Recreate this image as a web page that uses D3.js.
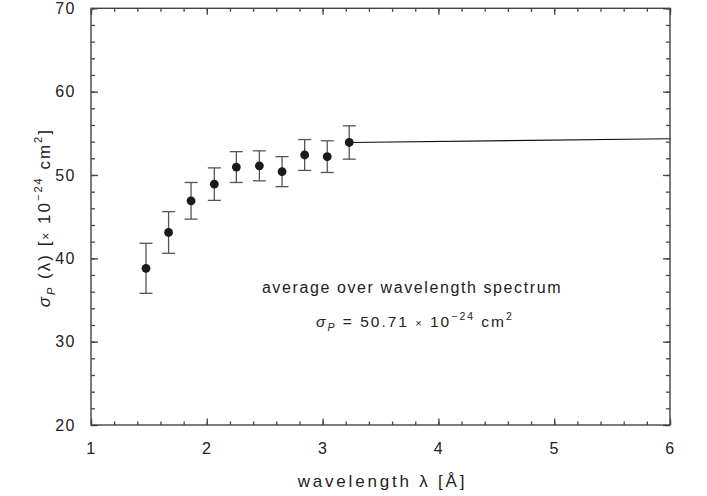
<!DOCTYPE html>
<html>
<head>
<meta charset="utf-8">
<script src="https://cdn.jsdelivr.net/npm/d3@7"></script>
<style>
	body { margin: 0; background: #fff; }
	svg { display: block; font-family: "Liberation Sans", Arial, sans-serif; }
	.tickLabels text { font-size: 16px; letter-spacing: 1.5px; fill: #222; }
</style>
</head>
<body>
<svg id="chart" width="707" height="496"></svg>
<script>
(function(){

	const wavelengths = [1.475, 1.67, 1.864, 2.065, 2.255, 2.454, 2.65, 2.845, 3.04, 3.23];
	const sigmaP      = [38.8, 43.1, 46.9, 48.9, 50.95, 51.1, 50.4, 52.4, 52.2, 53.9];
	const sigmaErr    = [3.0, 2.5, 2.2, 1.95, 1.85, 1.8, 1.8, 1.85, 1.9, 2.0];

	// extrapolation line to longer wavelengths
	const extrapX = [3.23, 6];
	const extrapY = [53.9, 54.35];

	const xTicks = [1, 2, 3, 4, 5, 6];
	const yTicks = [20, 30, 40, 50, 60, 70];
	const xMinorTicks = d3.range(1, 6.001, 0.2);
	const yMinorTicks = d3.range(20, 70.001, 2);

	const frameColor = "#444";
	const errColor = "#555";
	const dotColor = "#1a1a1a";

	const svg = d3.select("#chart");

	const left = 91, right = 670, top = 8.3, bottom = 425;
	const x = d3.scaleLinear().domain([1, 6]).range([left, right]);
	const y = d3.scaleLinear().domain([20, 70]).range([bottom, top]);

	// minor ticks on all four sides, pointing inward
	function styleAxis(g) {
		g.select(".domain").remove();
		g.selectAll("line").attr("stroke", frameColor).attr("stroke-width", 1.3);
	}

	svg.append("g").attr("transform", `translate(0,${bottom})`)
		.call(d3.axisBottom(x).tickValues(xMinorTicks).tickSize(-3.5).tickFormat(""))
		.call(styleAxis);
	svg.append("g").attr("transform", `translate(0,${top})`)
		.call(d3.axisTop(x).tickValues(xMinorTicks).tickSize(-3.5).tickFormat(""))
		.call(styleAxis);
	svg.append("g").attr("transform", `translate(${left},0)`)
		.call(d3.axisLeft(y).tickValues(yMinorTicks).tickSize(-4).tickFormat(""))
		.call(styleAxis);
	svg.append("g").attr("transform", `translate(${right},0)`)
		.call(d3.axisRight(y).tickValues(yMinorTicks).tickSize(-4).tickFormat(""))
		.call(styleAxis);

	// major ticks
	svg.append("g").attr("class", "tickLabels").attr("transform", `translate(0,${bottom})`)
		.call(d3.axisBottom(x).tickValues(xTicks).tickSize(-6.5).tickPadding(18).tickFormat(d3.format("d")))
		.call(styleAxis);
	svg.append("g").attr("transform", `translate(0,${top})`)
		.call(d3.axisTop(x).tickValues(xTicks).tickSize(-6.5).tickFormat(""))
		.call(styleAxis);
	svg.append("g").attr("class", "tickLabels").attr("transform", `translate(${left},0)`)
		.call(d3.axisLeft(y).tickValues(yTicks).tickSize(-7).tickPadding(15).tickFormat(d3.format("d")))
		.call(styleAxis);
	svg.append("g").attr("transform", `translate(${right},0)`)
		.call(d3.axisRight(y).tickValues(yTicks).tickSize(-7).tickFormat(""))
		.call(styleAxis);

	svg.selectAll(".tickLabels text").attr("font-family", null).attr("font-size", null);

	// frame
	svg.append("rect")
		.attr("x", left).attr("y", top)
		.attr("width", right - left).attr("height", bottom - top)
		.attr("fill", "none").attr("stroke", frameColor).attr("stroke-width", 1.4);

	// extrapolation line
	const lineData = extrapX.map((d, i) => [d, extrapY[i]]);
	svg.append("path")
		.datum(lineData)
		.attr("d", d3.line().x(d => x(d[0])).y(d => y(d[1])))
		.attr("fill", "none").attr("stroke", "#111").attr("stroke-width", 1.1);

	// error bars
	const pts = wavelengths.map((w, i) => ({ w: w, s: sigmaP[i], e: sigmaErr[i] }));
	const capHalf = 6.5;
	const eb = svg.append("g").attr("stroke", errColor).attr("stroke-width", 1.3);
	eb.selectAll(".stem").data(pts).enter().append("line")
		.attr("x1", d => x(d.w)).attr("x2", d => x(d.w))
		.attr("y1", d => y(d.s - d.e)).attr("y2", d => y(d.s + d.e));
	eb.selectAll(".capTop").data(pts).enter().append("line")
		.attr("x1", d => x(d.w) - capHalf).attr("x2", d => x(d.w) + capHalf)
		.attr("y1", d => y(d.s + d.e)).attr("y2", d => y(d.s + d.e));
	eb.selectAll(".capBot").data(pts).enter().append("line")
		.attr("x1", d => x(d.w) - capHalf).attr("x2", d => x(d.w) + capHalf)
		.attr("y1", d => y(d.s - d.e)).attr("y2", d => y(d.s - d.e));

	svg.append("g").selectAll("circle").data(pts).enter().append("circle")
		.attr("cx", d => x(d.w)).attr("cy", d => y(d.s))
		.attr("r", 4.4).attr("fill", dotColor);

	// x axis title
	svg.append("text")
		.attr("x", (left + right) / 2 + 2).attr("y", 487)
		.attr("text-anchor", "middle")
		.attr("font-size", 17).attr("letter-spacing", 2.8).attr("fill", "#222")
		.text("wavelength λ [Å]");

	// y axis title
	const yt = svg.append("text")
		.attr("transform", `translate(50,${(top + bottom) / 2 + 1}) rotate(-90)`)
		.attr("text-anchor", "middle")
		.attr("font-size", 17).attr("letter-spacing", 2).attr("fill", "#222");
	yt.append("tspan").attr("font-style", "italic").text("σ");
	yt.append("tspan").attr("font-style", "italic").attr("font-size", 11).attr("dy", 5).text("P");
	yt.append("tspan").attr("dy", -5).text(" (λ) [");
	yt.append("tspan").attr("font-size", 12).text("×");
	yt.append("tspan").text(" 10");
	yt.append("tspan").attr("font-size", 11).attr("dy", -8).text("−24");
	yt.append("tspan").attr("dy", 8).text(" cm");
	yt.append("tspan").attr("font-size", 11).attr("dy", -8).text("2");
	yt.append("tspan").attr("dy", 8).text("]");

	// annotation
	svg.append("text")
		.attr("x", 412).attr("y", 293)
		.attr("text-anchor", "middle")
		.attr("font-size", 16).attr("letter-spacing", 1.6).attr("fill", "#222")
		.text("average over wavelength spectrum");

	const an = svg.append("text")
		.attr("x", 415).attr("y", 327)
		.attr("text-anchor", "middle")
		.attr("font-size", 15.5).attr("letter-spacing", 2).attr("fill", "#222");
	an.append("tspan").attr("font-style", "italic").text("σ");
	an.append("tspan").attr("font-style", "italic").attr("font-size", 10.5).attr("dy", 4).text("P");
	an.append("tspan").attr("dy", -4).text(" = 50.71 ");
	an.append("tspan").attr("font-size", 11).text("×");
	an.append("tspan").text(" 10");
	an.append("tspan").attr("font-size", 10.5).attr("dy", -7).text("−24");
	an.append("tspan").attr("dy", 7).text(" cm");
	an.append("tspan").attr("font-size", 10.5).attr("dy", -7).text("2");

}());
</script>
</body>
</html>
